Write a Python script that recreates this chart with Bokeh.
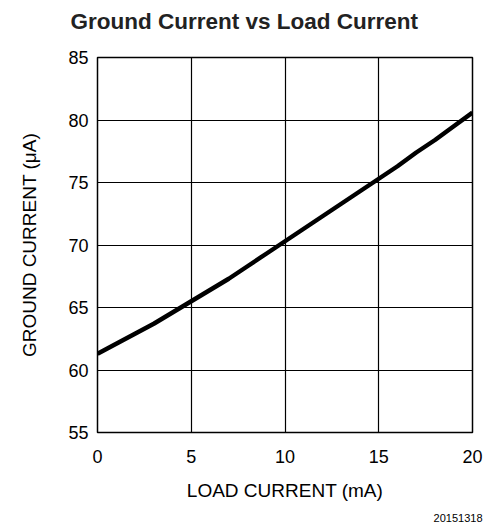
from bokeh.plotting import figure
from bokeh.models import Label, Range1d, FixedTicker
from bokeh.embed import file_html
from bokeh.resources import INLINE

load_ma = [0, 1, 2, 3, 4, 5, 6, 7, 8, 9, 10, 11, 12, 13, 14, 15, 16, 17, 18, 19, 20]
ground_ua = [61.3, 62.1, 62.9, 63.7, 64.6, 65.5, 66.4, 67.3, 68.3, 69.3, 70.3,
             71.3, 72.3, 73.3, 74.3, 75.3, 76.3, 77.4, 78.4, 79.5, 80.6]
x_ticks = [0, 5, 10, 15, 20]
y_ticks = [55, 60, 65, 70, 75, 80, 85]

FONT = "Liberation Sans"

p = figure(width=487, height=527, output_backend="svg", toolbar_location=None,
           x_range=Range1d(0, 20), y_range=Range1d(55, 85),
           min_border_left=97, min_border_right=15, min_border_top=57, min_border_bottom=95)

p.line(load_ma, ground_ua, line_color="black", line_width=4.5)

for ax in (p.xaxis[0], p.yaxis[0]):
    ax.major_tick_out = 0
    ax.major_tick_in = 0
    ax.minor_tick_out = 0
    ax.minor_tick_in = 0
    ax.axis_line_color = None
    ax.major_label_text_font = FONT
    ax.major_label_text_font_size = "18px"
    ax.major_label_text_color = "black"
    ax.axis_label_text_font = FONT
    ax.axis_label_text_font_size = "19px"
    ax.axis_label_text_font_style = "normal"
    ax.axis_label_text_color = "black"

p.xaxis[0].ticker = FixedTicker(ticks=x_ticks)
p.yaxis[0].ticker = FixedTicker(ticks=y_ticks)
p.xaxis[0].axis_label = "LOAD CURRENT (mA)"
p.yaxis[0].axis_label = "GROUND CURRENT (\u03bcA)"
p.xaxis[0].major_label_standoff = 17
p.xaxis[0].axis_label_standoff = 14
p.yaxis[0].major_label_standoff = 9
p.yaxis[0].axis_label_standoff = 25

p.xgrid.ticker = FixedTicker(ticks=x_ticks)
p.ygrid.ticker = FixedTicker(ticks=y_ticks)
p.grid.grid_line_color = "black"
p.grid.grid_line_width = 1.2
p.grid.grid_line_alpha = 1

p.outline_line_color = "black"
p.outline_line_width = 1.5
p.outline_line_alpha = 1

title = Label(x=-27, y=36, x_units="screen", y_units="screen",
              text="Ground Current vs Load Current", text_font=FONT,
              text_font_size="22.5px", text_font_style="bold", text_color="#222222",
              text_align="left", text_baseline="alphabetic")
p.add_layout(title, "above")

code = Label(x=385, y=-2, x_units="screen", y_units="screen",
             text="20151318", text_font=FONT, text_font_size="11px",
             text_color="black", text_align="right", text_baseline="top")
p.add_layout(code, "below")

open("out.html", "w").write(file_html(p, INLINE))
